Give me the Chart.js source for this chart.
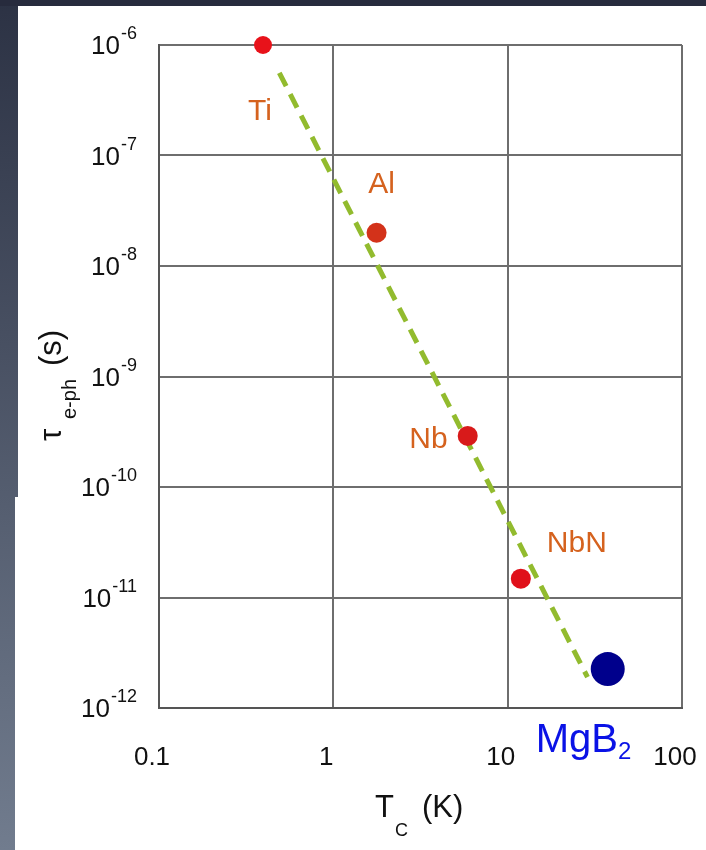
<!DOCTYPE html>
<html>
<head>
<meta charset="utf-8">
<script src="https://cdn.jsdelivr.net/npm/chart.js@4/dist/chart.umd.min.js"></script>
<style>
  body { margin: 0; background: #fff; }
  canvas { display: block; }
</style>
</head>
<body>
<canvas id="chart" width="706" height="850"></canvas>
<script>
// materials: critical temperature (K) vs electron-phonon time (s)
var names = ['Ti', 'Al', 'Nb', 'NbN', 'MgB2'];
var tc = [0.395, 1.77, 5.9, 11.9, 37.5];
var tau = [1.0e-6, 2.0e-8, 2.9e-10, 1.48e-11, 2.25e-12];
var dotColors = ['#e8121a', '#d3321a', '#d81a1a', '#e0101a', '#00008c'];
var dotSizes = [9, 10, 10, 10, 17];

// dashed trend line end points
var trendTc = [0.49, 28.7];
var trendTau = [5.6e-7, 1.9e-12];

var xTicks = [0.1, 1, 10, 100];
var yTicks = [1e-12, 1e-11, 1e-10, 1e-9, 1e-8, 1e-7, 1e-6];

var FONT = '"Liberation Sans", Arial, sans-serif';

var ctx = document.getElementById('chart');

var pts = tc.map(function (t, i) { return { x: t, y: tau[i] }; });
var trend = trendTc.map(function (t, i) { return { x: t, y: trendTau[i] }; });

// label offsets from each dot (pixels) and alignment
var labelPlace = {
  'Ti':   { dx: -3,  dy: 75,  align: 'center' },
  'Al':   { dx: 5,   dy: -40, align: 'center' },
  'Nb':   { dx: -20, dy: 12,  align: 'right' },
  'NbN':  { dx: 26,  dy: -27, align: 'left' },
  'MgB2': { dx: -72, dy: 83,  align: 'left' }
};

var backdrop = {
  id: 'backdrop',
  beforeDraw: function (chart) {
    var c = chart.ctx, w = chart.width, h = chart.height;
    c.save();
    c.fillStyle = '#ffffff';
    c.fillRect(0, 0, w, h);
    var g = c.createLinearGradient(0, 0, 0, h);
    g.addColorStop(0, '#2c3244');
    g.addColorStop(1, '#717c8e');
    c.fillStyle = g;
    c.fillRect(0, 0, 18, 497);
    c.fillRect(0, 497, 15, h - 497);
    c.fillStyle = '#272b3d';
    c.fillRect(0, 0, w, 6);
    c.restore();
  }
};

var texts = {
  id: 'texts',
  afterDraw: function (chart) {
    var c = chart.ctx;
    var xs = chart.scales.x, ys = chart.scales.y;
    c.save();
    c.fillStyle = '#111';
    c.textBaseline = 'alphabetic';

    // y tick labels 10^n
    yTicks.forEach(function (v) {
      var py = ys.getPixelForValue(v);
      var exp = String(Math.round(Math.log10(v))).replace('-', '-');
      c.font = '18px ' + FONT;
      var ew = c.measureText(exp).width;
      var right = 137;
      c.textAlign = 'left';
      c.fillText(exp, right - ew, py - 6);
      c.font = '26px ' + FONT;
      c.textAlign = 'right';
      c.fillText('10', right - ew - 1, py + 9);
    });

    // x tick labels
    c.font = '26px ' + FONT;
    c.textAlign = 'center';
    xTicks.forEach(function (v) {
      c.fillText(String(v), xs.getPixelForValue(v) - 7, 765);
    });

    // x title: T_C (K)
    c.textAlign = 'left';
    c.font = '31px ' + FONT;
    c.fillText('T', 375, 817);
    c.font = '18px ' + FONT;
    c.fillText('C', 395, 836);
    c.font = '31px ' + FONT;
    c.fillText('(K)', 422, 817);

    // y title: tau_e-ph (s)
    c.save();
    c.translate(61, 441);
    c.rotate(-Math.PI / 2);
    c.font = '31px ' + FONT;
    c.fillText('\u03c4', 0, 0);
    c.font = '20px ' + FONT;
    c.fillText('e-ph', 22, 15);
    c.font = '31px ' + FONT;
    c.fillText('(s)', 75, 0);
    c.restore();

    // material labels
    names.forEach(function (n, i) {
      var p = labelPlace[n];
      var px = xs.getPixelForValue(tc[i]) + p.dx;
      var py = ys.getPixelForValue(tau[i]) + p.dy;
      c.textAlign = p.align;
      if (n === 'MgB2') {
        c.fillStyle = '#0a12e6';
        c.font = '40px ' + FONT;
        c.textAlign = 'left';
        c.fillText('MgB', px, py);
        var mw = c.measureText('MgB').width;
        c.font = '24px ' + FONT;
        c.fillText('2', px + mw, py + 7);
      } else {
        c.fillStyle = '#d5621e';
        c.font = '30px ' + FONT;
        c.fillText(n, px, py);
      }
    });
    c.restore();
  }
};

function decadeTicks(list) {
  return function (scale) {
    scale.ticks = list.map(function (v) { return { value: v }; });
  };
}

var chart = new Chart(ctx, {
  type: 'scatter',
  data: {
    datasets: [
      {
        label: 'materials',
        data: pts,
        backgroundColor: dotColors,
        borderWidth: 0,
        pointRadius: dotSizes,
        pointHoverRadius: dotSizes,
        clip: false,
        order: 1
      },
      {
        type: 'line',
        label: 'trend',
        data: trend,
        borderColor: '#92bb2e',
        borderWidth: 5,
        borderDash: [15, 9],
        borderCapStyle: 'butt',
        pointRadius: 0,
        fill: false,
        clip: false,
        order: 2
      }
    ]
  },
  options: {
    responsive: false,
    animation: false,
    events: [],
    layout: { padding: { left: 0, top: 45, right: 24, bottom: 0 } },
    plugins: { legend: { display: false }, tooltip: { enabled: false } },
    scales: {
      x: {
        type: 'logarithmic',
        min: 0.1,
        max: 100,
        afterBuildTicks: decadeTicks(xTicks),
        afterFit: function (s) { s.height = 142; },
        ticks: { display: false },
        grid: { color: '#6e6e6e', lineWidth: 2, drawTicks: false },
        border: { color: '#555', width: 2 }
      },
      y: {
        type: 'logarithmic',
        min: 1e-12,
        max: 1e-6,
        afterBuildTicks: decadeTicks(yTicks),
        afterFit: function (s) { s.width = 159; },
        ticks: { display: false },
        grid: { color: '#6e6e6e', lineWidth: 2, drawTicks: false },
        border: { color: '#555', width: 2 }
      }
    }
  },
  plugins: [backdrop, texts]
});
</script>
</body>
</html>
